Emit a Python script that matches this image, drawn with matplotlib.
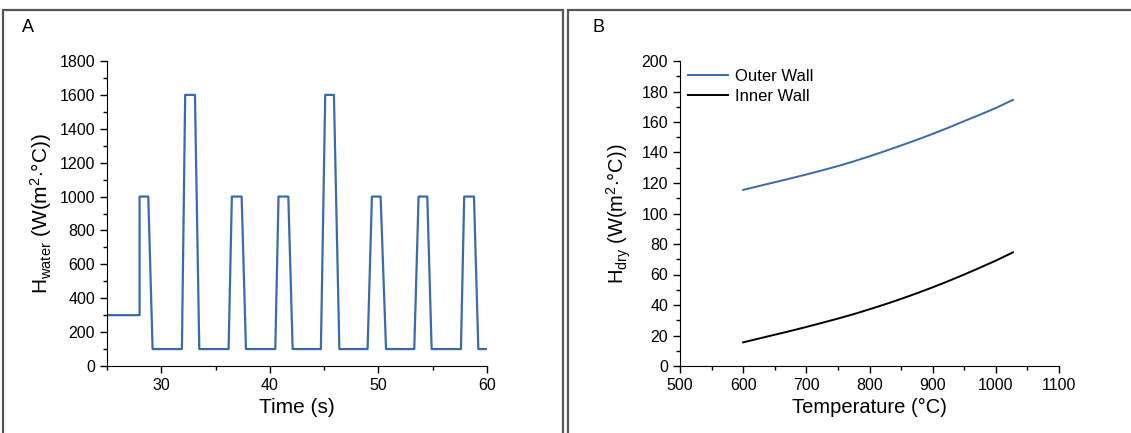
import matplotlib
matplotlib.use("Agg")
import matplotlib.pyplot as plt
from matplotlib.patches import Rectangle
from matplotlib.ticker import MultipleLocator

plt.rcParams['font.family'] = ['Liberation Sans', 'DejaVu Sans']
plt.rcParams['mathtext.fontset'] = 'custom'
plt.rcParams['mathtext.rm'] = 'Liberation Sans'
plt.rcParams['mathtext.it'] = 'Liberation Sans:italic'
plt.rcParams['mathtext.default'] = 'rm'

# panel A: water heat transfer coefficient vs time
time_s = [25, 28, 28, 28.8, 29.2, 31.9, 32.2, 33.1, 33.5, 36.2, 36.5, 37.4, 37.8,
          40.5, 40.8, 41.7, 42.1, 44.7, 45.1, 45.9, 46.4, 49.0, 49.4, 50.2, 50.7,
          53.3, 53.7, 54.5, 54.9, 57.6, 57.9, 58.8, 59.2, 60]
h_water = [300, 300, 1000, 1000, 100, 100, 1600, 1600, 100, 100, 1000, 1000, 100,
           100, 1000, 1000, 100, 100, 1600, 1600, 100, 100, 1000, 1000, 100,
           100, 1000, 1000, 100, 100, 1000, 1000, 100, 100]

# panel B: dry heat transfer coefficient vs temperature
temp_c = [600, 625, 650, 675, 700, 725, 750, 775, 800, 825, 850, 875, 900,
          925, 950, 975, 1000, 1027]
h_outer = [115.5, 118, 120.5, 123, 125.6, 128.3, 131.1, 134.2, 137.5, 141, 144.6,
           148.3, 152.2, 156.3, 160.6, 164.8, 169.2, 174.5]
h_inner = [15.5, 18, 20.5, 23, 25.6, 28.3, 31.1, 34, 37.2, 40.5, 44, 47.7, 51.6,
           55.7, 60, 64.5, 69.1, 74.5]

blue = '#3b6aa8'

fig = plt.figure(figsize=(11.31, 4.33), dpi=100)

# grey panel frames
for x0, w in [(3, 560), (568, 570)]:
    fig.patches.append(Rectangle((x0 / 1131, -0.05), w / 1131, 1.05 - 10 / 433,
                                 transform=fig.transFigure, fill=False,
                                 edgecolor='#555555', linewidth=1.6))

axA = fig.add_axes([107 / 1131, 1 - 366 / 433, 380 / 1131, 305 / 433])
axB = fig.add_axes([680 / 1131, 1 - 366 / 433, 379 / 1131, 305 / 433])

axA.plot(time_s, h_water, color=blue, lw=1.6)
axA.set_xlim(25, 60)
axA.set_ylim(0, 1800)
axA.xaxis.set_major_locator(MultipleLocator(10))
axA.xaxis.set_minor_locator(MultipleLocator(5))
axA.yaxis.set_major_locator(MultipleLocator(200))
axA.yaxis.set_minor_locator(MultipleLocator(100))
axA.set_xlabel('Time (s)', fontsize=15)
axA.set_ylabel(r'H$_{water}$ (W(m$^{2}$$\cdot$°C))', fontsize=15, labelpad=4)

axB.plot(temp_c, h_outer, color=blue, lw=1.4, label='Outer Wall')
axB.plot(temp_c, h_inner, color='black', lw=1.4, label='Inner Wall')
axB.set_xlim(500, 1100)
axB.set_ylim(0, 200)
axB.xaxis.set_major_locator(MultipleLocator(100))
axB.xaxis.set_minor_locator(MultipleLocator(50))
axB.yaxis.set_major_locator(MultipleLocator(20))
axB.yaxis.set_minor_locator(MultipleLocator(10))
axB.set_xlabel('Temperature (°C)', fontsize=14.5)
axB.set_ylabel(r'H$_{dry}$ (W(m$^{2}$$\cdot$°C))', fontsize=14.5, labelpad=6)
axB.legend(loc='upper left', frameon=False, fontsize=12, handlelength=2.4,
           handletextpad=0.4, borderaxespad=0.1, labelspacing=0.3,
           bbox_to_anchor=(0.0, 1.0))

for ax in (axA, axB):
    ax.spines['top'].set_visible(False)
    ax.spines['right'].set_visible(False)
    ax.tick_params(which='major', direction='out', length=5, width=1, labelsize=11.5)
    ax.tick_params(which='minor', direction='out', length=3, width=1)

fig.text(22 / 1131, 1 - 28 / 433, 'A', fontsize=13, va='center')
fig.text(592 / 1131, 1 - 28 / 433, 'B', fontsize=13, va='center')

fig.savefig('out.png', dpi=100)
